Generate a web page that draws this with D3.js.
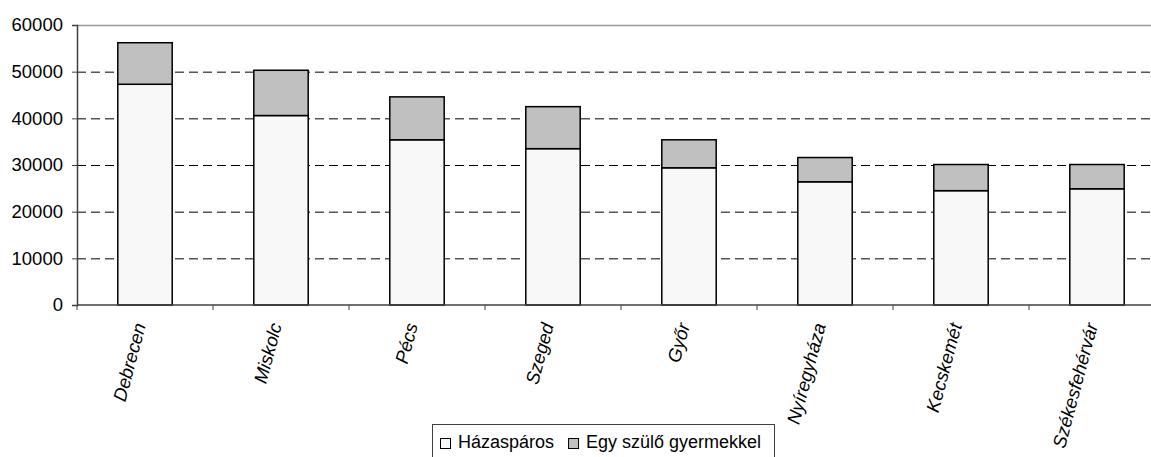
<!DOCTYPE html>
<html><head><meta charset="utf-8">
<script src="https://cdn.jsdelivr.net/npm/d3@7"></script>
<style>
html,body{margin:0;padding:0;background:#fff;}
svg{display:block;}
text{font-family:"Liberation Sans",Arial,sans-serif;fill:#000;}
</style></head>
<body>
<script>
const categories = ["Debrecen","Miskolc","Pécs","Szeged","Győr","Nyíregyháza","Kecskemét","Székesfehérvár"];
const hazasparos = [47300,40600,35400,33500,29400,26400,24500,24900];
const egySzulo = [8900,9700,9200,9000,6000,5200,5600,5200];
const seriesNames = ["Házaspáros","Egy szülő gyermekkel"];
const seriesColors = ["#f8f8f8","#c0c0c0"];
const yTicks = [0,10000,20000,30000,40000,50000,60000];

(function () {
const W = 1151, H = 457;
const pLeft = 77, pRight = 1165, pTop = 25, pBottom = 305;
const fs = 18;

const svg = d3.select("body").append("svg").attr("width", W).attr("height", H);

const x = d3.scaleBand().domain(categories).range([pLeft, pRight]).paddingInner(0.6).paddingOuter(0.3);
const y = d3.scaleLinear().domain([0, 60000]).range([pBottom, pTop]);

// gridlines
svg.append("g").selectAll("line").data(yTicks.filter(d => d > 0 && d < 60000)).join("line")
  .attr("x1", pLeft).attr("x2", pRight)
  .attr("y1", d => y(d) + 0.5).attr("y2", d => y(d) + 0.5)
  .attr("stroke", "#000").attr("stroke-width", 1).attr("stroke-dasharray", "9,5");
// top border
svg.append("line").attr("x1", pLeft).attr("x2", pRight).attr("y1", y(60000) + 0.5).attr("y2", y(60000) + 0.5)
  .attr("stroke", "#999").attr("stroke-width", 1.5);

// stacked bars
const data = categories.map((c, i) => ({cat: c, a: hazasparos[i], b: egySzulo[i]}));
const stack = d3.stack().keys(["a", "b"])(data);
stack.forEach((layer, li) => {
  svg.append("g").selectAll("rect").data(layer).join("rect")
    .attr("x", d => x(d.data.cat))
    .attr("width", x.bandwidth())
    .attr("y", d => y(d[1]))
    .attr("height", d => y(d[0]) - y(d[1]))
    .attr("fill", seriesColors[li])
    .attr("stroke", "#000").attr("stroke-width", 1.5);
});

// y axis
const yAxis = d3.axisLeft(y).tickValues(yTicks).tickSize(5).tickPadding(9).tickFormat(d3.format("d"));
const gy = svg.append("g").attr("transform", `translate(${pLeft},0)`).call(yAxis);
gy.select(".domain").attr("stroke", "#404040").attr("stroke-width", 1.5);
gy.selectAll(".tick line").attr("stroke", "#404040");
gy.selectAll("text").attr("font-size", 18.5).attr("fill", "#000").attr("font-family", '"Liberation Sans",Arial,sans-serif');

// x axis line and ticks at category boundaries
svg.append("line").attr("x1", pLeft).attr("x2", pRight).attr("y1", pBottom).attr("y2", pBottom)
  .attr("stroke", "#404040").attr("stroke-width", 1.5);
const step = x.step();
const boundaries = d3.range(categories.length + 1).map(i => pLeft + i * step);
svg.append("g").selectAll("line").data(boundaries).join("line")
  .attr("x1", d => d).attr("x2", d => d).attr("y1", pBottom).attr("y2", pBottom + 5)
  .attr("stroke", "#404040").attr("stroke-width", 1);

// x labels
svg.append("g").selectAll("text").data(categories).join("text")
  .attr("transform", d => `translate(${x(d) + x.bandwidth() / 2 + 1},${pBottom + 20}) rotate(-75)`)
  .attr("text-anchor", "end")
  .attr("font-size", 18.5)
  .attr("font-style", "italic")
  .text(d => d);

// legend
const lg = svg.append("g");
lg.append("rect").attr("x", 432.5).attr("y", 424.5).attr("width", 342).attr("height", 40)
  .attr("fill", "#fff").attr("stroke", "#404040").attr("stroke-width", 1);
let lx = 440;
seriesNames.forEach((n, i) => {
  lg.append("rect").attr("x", lx + 0.5).attr("y", 438.5).attr("width", 10).attr("height", 10)
    .attr("fill", seriesColors[i]).attr("stroke", "#000").attr("stroke-width", 1);
  const t = lg.append("text").attr("x", lx + 18).attr("y", 448).attr("font-size", fs).text(n);
  lx = lx + 18 + t.node().getComputedTextLength() + 14;
});
})();
</script>
</body></html>
